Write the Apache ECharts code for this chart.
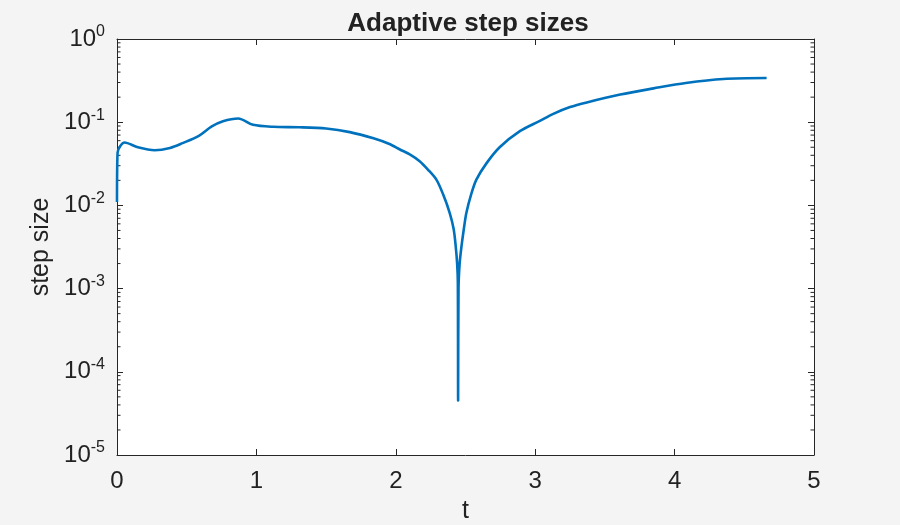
<!DOCTYPE html>
<html>
<head>
<meta charset="utf-8">
<title>Adaptive step sizes</title>
<script src="https://cdn.jsdelivr.net/npm/echarts@6/dist/echarts.min.js"></script>
<style>
  html, body { margin: 0; padding: 0; background: #f4f4f4; }
  #main { width: 900px; height: 525px; }
</style>
</head>
<body>
<div id="main"></div>
<script>
// time values
var tVals = [0, 0.004, 0.055, 0.15, 0.27, 0.38, 0.47, 0.59, 0.68, 0.76, 0.87, 0.976,
    1.12, 1.31, 1.50, 1.67, 1.84, 1.95, 2.03, 2.10, 2.171, 2.23, 2.291, 2.34, 2.387, 2.415,
    2.430, 2.440, 2.445, 2.447, 2.450, 2.458, 2.471, 2.488, 2.506, 2.54, 2.578, 2.65,
    2.745, 2.89, 3.03, 3.13, 3.25, 3.37, 3.61, 3.85, 4.08, 4.35, 4.66];
// step sizes
var stepVals = [0.011, 0.043, 0.057, 0.050, 0.046, 0.049, 0.056, 0.069, 0.089, 0.103, 0.111, 0.093,
    0.088, 0.087, 0.084, 0.076, 0.064, 0.055, 0.047, 0.041, 0.034, 0.027, 0.0204, 0.0135, 0.0081, 0.0052,
    0.0032, 0.0020, 0.0012, 0.000045, 0.0010, 0.0020, 0.0032, 0.0052, 0.0081, 0.0135, 0.0204, 0.032,
    0.050, 0.078, 0.103, 0.126, 0.152, 0.173, 0.215, 0.255, 0.296, 0.331, 0.340];

// minor log ticks (2..9 in each decade)
var minorMult = [2, 3, 4, 5, 6, 7, 8, 9];
var decades = [1e-5, 1e-4, 1e-3, 1e-2, 1e-1];

var lineData = [];
tVals.forEach(function(t, i) {
    lineData.push([t, stepVals[i]]);
});
var minorData = [];
decades.forEach(function(d) {
    minorMult.forEach(function(m) {
        minorData.push([0, m * d]);
    });
});

var axisColor = '#262626';
var labelFont = 'Liberation Sans, Arial, Helvetica, sans-serif';

var myChart = echarts.init(document.getElementById('main'));
var option = {
    backgroundColor: '#f4f4f4',
    animation: false,
    title: {
        text: 'Adaptive step sizes',
        left: 463,
        textAlign: 'center',
        top: 6,
        textStyle: {
            fontFamily: labelFont,
            fontSize: 26,
            fontWeight: 'bold',
            color: '#222'
        }
    },
    grid: {
        left: 117,
        right: 86,
        top: 39,
        bottom: 70,
        outerBoundsMode: 'none',
        containLabel: false,
        show: true,
        backgroundColor: '#fff',
        borderWidth: 0
    },
    xAxis: [{
        type: 'value',
        min: 0,
        max: 5,
        interval: 1,
        name: 't',
        nameLocation: 'middle',
        nameGap: 44,
        nameTextStyle: { fontFamily: labelFont, fontSize: 25, color: '#222' },
        axisLine: { show: true, onZero: false, lineStyle: { color: axisColor, width: 1 } },
        axisTick: { show: true, inside: true, length: 6, lineStyle: { color: axisColor } },
        axisLabel: { fontFamily: labelFont, fontSize: 24, color: '#222', margin: 14 },
        splitLine: { show: false }
    }, {
        type: 'value',
        position: 'top',
        min: 0,
        max: 5,
        interval: 1,
        axisLine: { show: true, onZero: false, lineStyle: { color: axisColor, width: 1 } },
        axisTick: { show: true, inside: true, length: 6, lineStyle: { color: axisColor } },
        axisLabel: { show: false },
        splitLine: { show: false }
    }],
    yAxis: [{
        type: 'log',
        logBase: 10,
        min: 1e-5,
        max: 1,
        name: 'step size',
        nameLocation: 'middle',
        nameGap: 60,
        nameRotate: 90,
        nameTextStyle: { fontFamily: labelFont, fontSize: 25, color: '#222' },
        axisLine: { show: true, onZero: false, lineStyle: { color: axisColor, width: 1 } },
        axisTick: { show: true, inside: true, length: 6, lineStyle: { color: axisColor } },
        axisLabel: {
            margin: 12,
            formatter: function(v) {
                var e = Math.round(Math.log10(v));
                return '{b|10}{s|' + e + '}';
            },
            rich: {
                b: { fontFamily: labelFont, fontSize: 24, color: '#222' },
                s: { fontFamily: labelFont, fontSize: 16, color: '#222', padding: [0, 0, 14, 0] }
            }
        },
        splitLine: { show: false }
    }, {
        type: 'log',
        logBase: 10,
        min: 1e-5,
        max: 1,
        position: 'right',
        axisLine: { show: true, onZero: false, lineStyle: { color: axisColor, width: 1 } },
        axisTick: { show: true, inside: true, length: 6, lineStyle: { color: axisColor } },
        axisLabel: { show: false },
        splitLine: { show: false }
    }],
    series: [{
        type: 'custom',
        silent: true,
        clip: false,
        xAxisIndex: 0,
        yAxisIndex: 0,
        data: minorData,
        renderItem: function(params, api) {
            var v = api.value(1);
            var pl = api.coord([0, v]);
            var pr = api.coord([5, v]);
            return {
                type: 'group',
                children: [{
                    type: 'line',
                    shape: { x1: pl[0], y1: pl[1], x2: pl[0] + 3.5, y2: pl[1] },
                    style: { stroke: axisColor, lineWidth: 1 }
                }, {
                    type: 'line',
                    shape: { x1: pr[0], y1: pr[1], x2: pr[0] - 3.5, y2: pr[1] },
                    style: { stroke: axisColor, lineWidth: 1 }
                }]
            };
        }
    }, {
        type: 'line',
        xAxisIndex: 0,
        yAxisIndex: 0,
        data: lineData,
        symbol: 'none',
        smooth: 0.3,
        lineStyle: { color: '#0072bd', width: 2.6 },
        z: 5
    }]
};

if (option && typeof option === "object") {
    myChart.setOption(option, true);
}
</script>
</body>
</html>
